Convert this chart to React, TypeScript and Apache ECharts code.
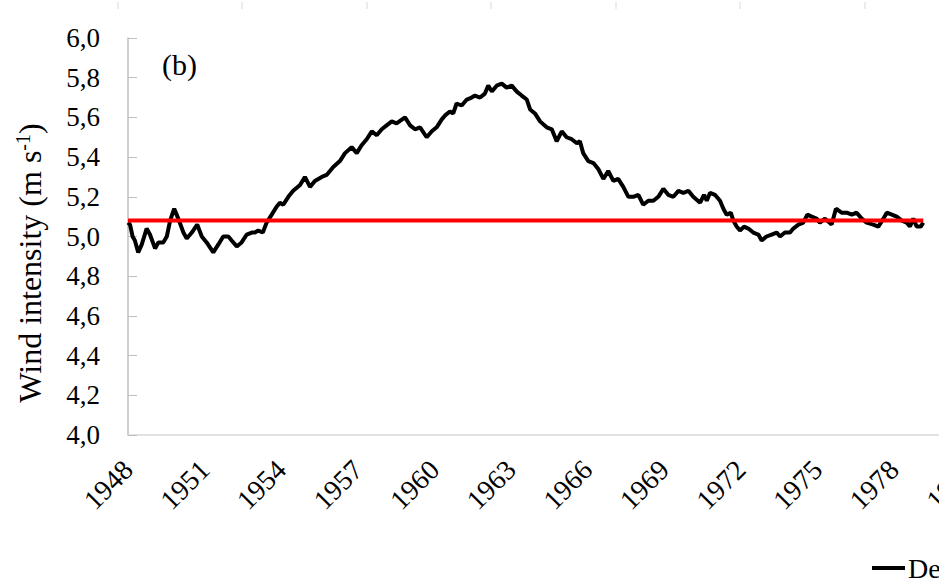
import React, { useEffect, useRef } from "react";
import * as echarts from "echarts";

const years: number[] = [
  1948.0, 1948.08, 1948.18, 1948.27, 1948.4, 1948.54, 1948.73, 1948.86, 1949.06, 1949.19,
  1949.38, 1949.52, 1949.65, 1949.81, 1949.97, 1950.17, 1950.3, 1950.5, 1950.71, 1950.89,
  1951.08, 1951.34, 1951.54, 1951.73, 1951.93, 1952.06, 1952.26, 1952.45, 1952.65, 1952.85,
  1952.97, 1953.1, 1953.28, 1953.43, 1953.63, 1953.82, 1953.95, 1954.08, 1954.28, 1954.47,
  1954.74, 1954.93, 1955.13, 1955.32, 1955.59, 1955.78, 1956.04, 1956.3, 1956.5, 1956.76,
  1956.96, 1957.15, 1957.35, 1957.55, 1957.74, 1957.94, 1958.13, 1958.33, 1958.52, 1958.85,
  1959.05, 1959.24, 1959.44, 1959.7, 1959.9, 1960.09, 1960.29, 1960.42, 1960.61, 1960.74,
  1960.87, 1961.07, 1961.27, 1961.46, 1961.59, 1961.79, 1961.98, 1962.11, 1962.25, 1962.44,
  1962.64, 1962.83, 1963.03, 1963.23, 1963.42, 1963.62, 1963.75, 1963.94, 1964.14, 1964.4,
  1964.6, 1964.79, 1964.99, 1965.18, 1965.38, 1965.58, 1965.7, 1965.83, 1966.03, 1966.23,
  1966.42, 1966.62, 1966.81, 1967.01, 1967.2, 1967.4, 1967.6, 1967.79, 1967.99, 1968.18,
  1968.38, 1968.58, 1968.77, 1968.97, 1969.16, 1969.36, 1969.56, 1969.75, 1969.95, 1970.14,
  1970.41, 1970.56, 1970.67, 1970.8, 1970.99, 1971.19, 1971.32, 1971.45, 1971.61, 1971.71,
  1971.84, 1971.97, 1972.13, 1972.3, 1972.49, 1972.69, 1972.82, 1973.01, 1973.21, 1973.41,
  1973.54, 1973.73, 1973.93, 1974.06, 1974.26, 1974.45, 1974.61, 1974.78, 1974.97, 1975.1,
  1975.3, 1975.56, 1975.73, 1975.95, 1976.15, 1976.35, 1976.54, 1976.74, 1976.93, 1977.19,
  1977.39, 1977.59, 1977.72, 1977.92, 1978.11, 1978.31, 1978.5, 1978.63, 1978.76, 1978.89,
  1979.05, 1979.15,
];

const windValues: number[] = [
  5.07, 5.06, 5.0, 4.98, 4.92, 4.96, 5.04, 5.01, 4.94, 4.97,
  4.97, 5.0, 5.08, 5.14, 5.09, 5.02, 4.99, 5.02, 5.06, 5.0,
  4.97, 4.92, 4.96, 5.0, 5.0, 4.98, 4.95, 4.97, 5.01, 5.02,
  5.02, 5.03, 5.02, 5.07, 5.11, 5.15, 5.17, 5.16, 5.2, 5.23,
  5.26, 5.3, 5.25, 5.28, 5.3, 5.31, 5.35, 5.38, 5.42, 5.45,
  5.42, 5.46, 5.49, 5.53, 5.51, 5.54, 5.56, 5.58, 5.57, 5.6,
  5.56, 5.54, 5.55, 5.5, 5.53, 5.55, 5.59, 5.61, 5.63, 5.62,
  5.67, 5.66, 5.69, 5.7, 5.71, 5.7, 5.72, 5.76, 5.73, 5.76,
  5.77, 5.75, 5.76, 5.73, 5.71, 5.69, 5.64, 5.62, 5.58, 5.55,
  5.54, 5.48, 5.53, 5.5, 5.49, 5.47, 5.48, 5.42, 5.38, 5.37,
  5.34, 5.29, 5.33, 5.28, 5.29, 5.25, 5.2, 5.2, 5.21, 5.16,
  5.18, 5.18, 5.2, 5.24, 5.21, 5.2, 5.23, 5.22, 5.23, 5.2,
  5.17, 5.21, 5.18, 5.22, 5.21, 5.18, 5.14, 5.11, 5.12, 5.08,
  5.05, 5.03, 5.05, 5.04, 5.02, 5.01, 4.98, 5.0, 5.01, 5.02,
  5.0, 5.02, 5.02, 5.04, 5.06, 5.07, 5.11, 5.1, 5.09, 5.07,
  5.09, 5.06, 5.14, 5.12, 5.12, 5.11, 5.12, 5.09, 5.07, 5.06,
  5.05, 5.09, 5.12, 5.11, 5.1, 5.08, 5.07, 5.05, 5.09, 5.05,
  5.05, 5.07,
];

const meanValue = 5.08;
const seriesName = "Decadal moving average";
const panelLabel = "(b)";
const yMin = 4.0;
const yMax = 6.0;
const yStep = 0.2;
const xMin = 1948;
const xMax = 1981;
const xStep = 3;
const topPanelTicks: number[] = [118, 242, 367, 491, 616, 740, 865];

const FONT = '"Liberation Serif", "Times New Roman", serif';

export default function App() {
  const ref = useRef<HTMLDivElement>(null);

  useEffect(() => {
    if (!ref.current) return;
    const chart = echarts.init(ref.current, undefined, { renderer: "svg" });

    const lineData = years.map((y, i) => [y, windValues[i]]);
    const meanData = [
      [years[0], meanValue],
      [years[years.length - 1], meanValue],
    ];

    const graphics: any[] = topPanelTicks.map((x) => ({
      type: "line",
      shape: { x1: x, y1: 2, x2: x, y2: 9 },
      style: { stroke: "#d9d9d9", lineWidth: 1 },
      silent: true,
    }));
    graphics.push({
      type: "text",
      left: 162,
      top: 49,
      style: { text: panelLabel, font: `30px ${FONT}`, fill: "#000" },
    });
    graphics.push({
      type: "text",
      x: 30,
      y: 263,
      rotation: Math.PI / 2,
      style: {
        text: "{a|Wind intensity (m s}{s|-1}{a|)}",
        align: "center",
        verticalAlign: "middle",
        rich: {
          a: { fontSize: 32, fontFamily: FONT, fill: "#000", lineHeight: 35 },
          s: { fontSize: 20, fontFamily: FONT, fill: "#000", verticalAlign: "top", lineHeight: 35 },
        },
      },
    });

    chart.setOption({
      animation: false,
      backgroundColor: "#fff",
      textStyle: { fontFamily: FONT },
      grid: {
        left: 128,
        top: 38,
        width: 842.5,
        height: 397,
        containLabel: false,
        outerBoundsMode: "none",
      },
      legend: {
        data: [{ name: seriesName, icon: "rect" }],
        left: 867,
        top: 549,
        itemWidth: 33,
        itemHeight: 4,
        itemGap: 10,
        textStyle: { fontSize: 28, fontFamily: FONT, color: "#000", padding: [0, 0, 0, -2] },
        selectedMode: false,
      },
      xAxis: {
        type: "value",
        min: xMin,
        max: xMax,
        interval: xStep,
        axisLine: { show: true, lineStyle: { color: "#d9d9d9", width: 1.5 } },
        axisTick: { show: false },
        splitLine: { show: false },
        axisLabel: {
          rotate: 45,
          margin: 30,
          fontSize: 28,
          fontFamily: FONT,
          color: "#000",
          showMaxLabel: true,
          formatter: (v: number) => String(Math.round(v)),
        },
      },
      yAxis: {
        type: "value",
        min: yMin,
        max: yMax,
        interval: yStep,
        axisLine: { show: true, lineStyle: { color: "#bfbfbf", width: 1.5 } },
        axisTick: { show: true, inside: true, length: 9, lineStyle: { color: "#bfbfbf" } },
        splitLine: { show: false },
        axisLabel: {
          margin: 28,
          fontSize: 27,
          fontFamily: FONT,
          color: "#000",
          formatter: (v: number) => v.toFixed(1).replace(".", ","),
        },
      },
      series: [
        {
          name: seriesName,
          type: "line",
          data: lineData,
          showSymbol: false,
          symbol: "none",
          smooth: false,
          lineStyle: { color: "#000", width: 4 },
          itemStyle: { color: "#000" },
          z: 2,
        },
        {
          name: "Mean",
          type: "line",
          data: meanData,
          showSymbol: false,
          symbol: "none",
          lineStyle: { color: "#ff0000", width: 4 },
          itemStyle: { color: "#ff0000" },
          z: 3,
        },
      ],
      graphic: graphics,
    });

    return () => chart.dispose();
  }, []);

  return (
    <div
      style={{ position: "absolute", left: 0, top: 0, width: 939, height: 585, overflow: "hidden", background: "#fff" }}
    >
      <div ref={ref} style={{ width: 939, height: 585 }} />
    </div>
  );
}
